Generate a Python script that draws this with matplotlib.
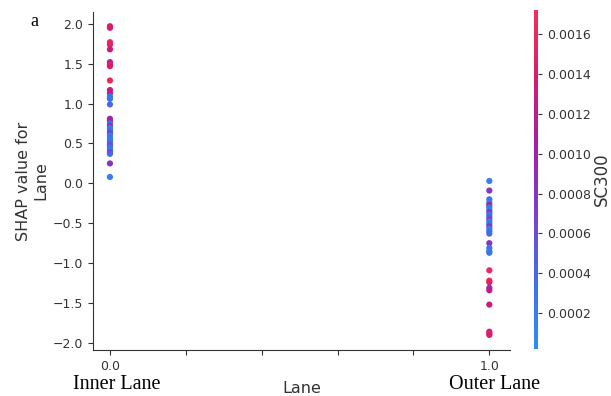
import numpy as np
import matplotlib
matplotlib.use("Agg")
import matplotlib.pyplot as plt
from matplotlib.colors import LinearSegmentedColormap

# Inner Lane (Lane = 0): SHAP values and SC300 values
inner_shap = [1.97, 1.95, 1.77, 1.74, 1.68, 1.52, 1.49, 1.47, 1.29, 1.17, 1.13,
              1.09, 1.06, 0.99, 0.81, 0.78, 0.75, 0.72, 0.69, 0.66, 0.63, 0.60,
              0.57, 0.54, 0.51, 0.48, 0.45, 0.42, 0.39, 0.37, 0.25, 0.08]
inner_sc300 = [0.0013, 0.0014, 0.0016, 0.0015, 0.0013, 0.0010, 0.0015, 0.0014, 0.0016, 0.0013, 0.0012,
               0.0003, 0.0003, 0.0004, 0.0009, 0.0011, 0.0003, 0.0008, 0.0002, 0.0003, 0.0007, 0.0002,
               0.0003, 0.0002, 0.0004, 0.0006, 0.0003, 0.0002, 0.0007, 0.0004, 0.0008, 0.0002]

# Outer Lane (Lane = 1)
outer_shap = [0.03, -0.09, -0.20, -0.24, -0.27, -0.30, -0.33, -0.36, -0.39, -0.42,
              -0.45, -0.48, -0.51, -0.54, -0.57, -0.60, -0.63, -0.75, -0.81, -0.85,
              -0.87, -1.09, -1.22, -1.24, -1.31, -1.34, -1.52, -1.86, -1.88, -1.90]
outer_sc300 = [0.0002, 0.0008, 0.0003, 0.0002, 0.0011, 0.0003, 0.0002, 0.0008, 0.0003, 0.0004,
               0.0007, 0.0002, 0.0003, 0.0008, 0.0002, 0.0003, 0.0004, 0.0008, 0.0003, 0.0002,
               0.0003, 0.0016, 0.0016, 0.0015, 0.0009, 0.0012, 0.0013, 0.0013, 0.0015, 0.0014]

cbar_ticks = [0.0002, 0.0004, 0.0006, 0.0008, 0.0010, 0.0012, 0.0014, 0.0016]
vmin, vmax = 0.00002, 0.00172

red_blue = LinearSegmentedColormap.from_list(
    "red_blue", ["#2b8ef5", "#3f6fee", "#7a3fd0", "#a61ea6", "#d81a6f", "#f53158"])

axis_color = "#333333"

fig = plt.figure(figsize=(6.11, 3.96), dpi=100)
ax = fig.add_axes([0.152, 0.116, 0.683, 0.854])

xs = [0.0] * len(inner_shap) + [1.0] * len(outer_shap)
ys = inner_shap + outer_shap
cs = inner_sc300 + outer_sc300
sc = ax.scatter(xs, ys, c=cs, cmap=red_blue, vmin=vmin, vmax=vmax, s=20,
                linewidth=0, alpha=1)

ax.set_xlim(-0.045, 1.055)
ax.set_ylim(-2.09, 2.15)
ax.set_xticks([0.0, 0.2, 0.4, 0.6, 0.8, 1.0])
ax.set_xticklabels(["0.0", "", "", "", "", "1.0"])
ax.set_yticks(np.arange(-2.0, 2.01, 0.5))
ax.spines["top"].set_visible(False)
ax.spines["right"].set_visible(False)
for s in ["left", "bottom"]:
    ax.spines[s].set_color(axis_color)
ax.tick_params(colors=axis_color, labelcolor=axis_color, labelsize=9)
ax.set_xlabel("Lane", color=axis_color, fontsize=11.5, labelpad=6)
ax.set_ylabel("SHAP value for\nLane", color=axis_color, fontsize=11.5, labelpad=3)

cax = fig.add_axes([0.874, 0.118, 0.0065, 0.857])
cb = fig.colorbar(sc, cax=cax, ticks=cbar_ticks)
cb.outline.set_visible(False)
cb.ax.tick_params(labelsize=9, colors=axis_color, labelcolor=axis_color, length=3)
cb.ax.set_yticklabels(["%.4f" % t for t in cbar_ticks])
cb.set_label("SC300", color=axis_color, fontsize=12, labelpad=1)

fig.text(0.05, 0.935, "a", family="Liberation Serif", fontsize=13)
fig.text(0.191, 0.018, "Inner Lane", family="Liberation Serif", fontsize=14.5, ha="center", va="baseline")
fig.text(0.81, 0.018, "Outer Lane", family="Liberation Serif", fontsize=14.5, ha="center", va="baseline")

fig.savefig("out.png", dpi=100)
